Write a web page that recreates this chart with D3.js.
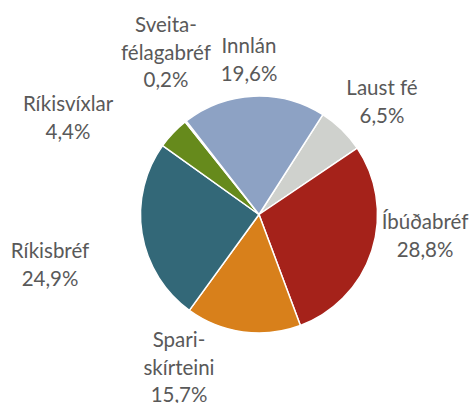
<!DOCTYPE html>
<html>
<head>
<meta charset="utf-8">
<script src="https://cdn.jsdelivr.net/npm/d3@7"></script>
<style>
  html, body { margin: 0; padding: 0; background: #ffffff; }
  svg { display: block; }
  text { font-family: Lato, "Open Sans", sans-serif; fill: #595959; }
</style>
</head>
<body>
<svg id="chart" width="473" height="403"></svg>
<script>
// ---- data ----
const categories = ["Laust fé", "Íbúðabréf", "Spariskírteini", "Ríkisbréf", "Ríkisvíxlar", "Sveitafélagabréf", "Innlán"];
const labelLines = [["Laust fé"], ["Íbúðabréf"], ["Spari-", "skírteini"], ["Ríkisbréf"], ["Ríkisvíxlar"], ["Sveita-", "félagabréf"], ["Innlán"]];
const values = [6.5, 28.8, 15.7, 24.9, 4.4, 0.2, 19.6];
const valueLabels = ["6,5%", "28,8%", "15,7%", "24,9%", "4,4%", "0,2%", "19,6%"];

// ---- styles / layout ----
const colors = ["#cfd1cd", "#a5221a", "#d8801b", "#336878", "#668a1c", "#7a5a96", "#8da2c4"];
// label block centres relative to pie centre
const labelOffsets = [[123, -113], [166, 21], [-80, 153], [-209, 50], [-191, -97], [-93, -162], [-10, -155]];
const cx = 259, cy = 214.5, radius = 118.5;
const startDeg = 32.6;
const fontSize = 20.5, lineGap = 27.5;

const svg = d3.select("#chart");
const g = svg.append("g").attr("transform", `translate(${cx},${cy})`);

const start = startDeg * Math.PI / 180;
const pie = d3.pie().sort(null).value(d => d.v).startAngle(start).endAngle(start + 2 * Math.PI);
const arc = d3.arc().innerRadius(0).outerRadius(radius);

const data = categories.map((c, i) => ({ c, v: values[i], i }));
const arcs = pie(data);

g.selectAll("path.slice")
  .data(arcs)
  .join("path")
  .attr("class", "slice")
  .attr("d", arc)
  .attr("fill", d => colors[d.data.i])
  .attr("stroke", "#ffffff")
  .attr("stroke-width", 1.5)
  .attr("stroke-linejoin", "round");

// labels
const lbl = g.selectAll("g.label")
  .data(arcs)
  .join("g")
  .attr("class", "label")
  .attr("transform", d => `translate(${labelOffsets[d.data.i][0]},${labelOffsets[d.data.i][1]})`);

lbl.each(function(d) {
  const lines = labelLines[d.data.i].concat([valueLabels[d.data.i]]);
  const n = lines.length;
  const sel = d3.select(this);
  lines.forEach((t, k) => {
    const y = (k - (n - 1) / 2) * lineGap;
    sel.append("text")
      .attr("x", 0)
      .attr("y", y + fontSize * 0.36)
      .attr("text-anchor", "middle")
      .attr("font-size", fontSize)
      .text(t);
  });
});
</script>
</body>
</html>
